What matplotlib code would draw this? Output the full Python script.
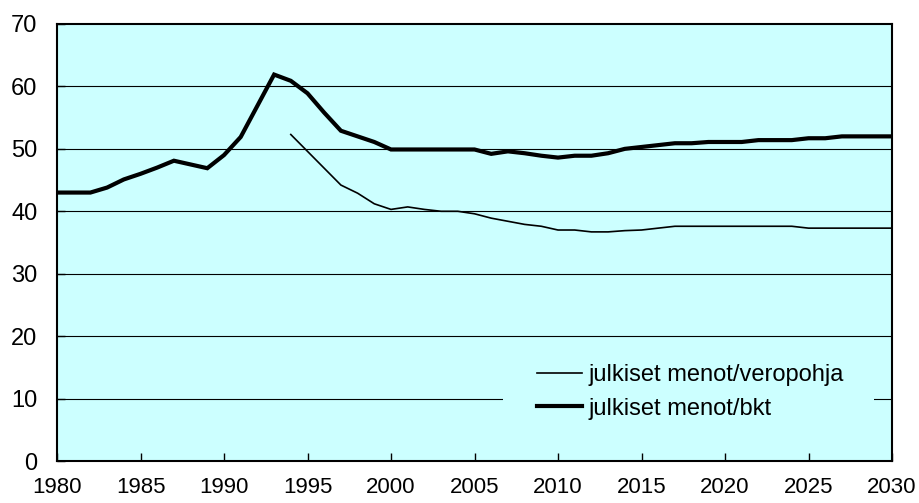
import matplotlib
matplotlib.use("Agg")
import matplotlib.pyplot as plt
from matplotlib.patches import Rectangle

plt.rcParams['font.family'] = ['Liberation Sans', 'DejaVu Sans']

years_bkt = list(range(1980, 2031))
menot_bkt = [43.0, 43.0, 43.0, 43.8, 45.1, 46.0, 47.0, 48.1, 47.5, 46.9,
             49.0, 51.9, 56.9, 61.9, 60.9, 58.9, 55.8, 52.9, 52.0, 51.1,
             49.9, 49.9, 49.9, 49.9, 49.9, 49.9, 49.2, 49.6, 49.3, 48.9,
             48.6, 48.9, 48.9, 49.3, 50.0, 50.3, 50.6, 50.9, 50.9, 51.1,
             51.1, 51.1, 51.4, 51.4, 51.4, 51.7, 51.7, 52.0, 52.0, 52.0,
             52.0]

years_vero = list(range(1994, 2031))
menot_vero = [52.3, 49.6, 46.9, 44.2, 42.9, 41.2, 40.3, 40.7, 40.3, 40.0,
              40.0, 39.6, 38.9, 38.4, 37.9, 37.6, 37.0, 37.0, 36.7, 36.7,
              36.9, 37.0, 37.3, 37.6, 37.6, 37.6, 37.6, 37.6, 37.6, 37.6,
              37.6, 37.3, 37.3, 37.3, 37.3, 37.3, 37.3]

x_ticks = list(range(1980, 2031, 5))
y_ticks = list(range(0, 71, 10))

labels = ["julkiset menot/veropohja", "julkiset menot/bkt"]

bg = '#CCFFFF'
fig = plt.figure(figsize=(9.19, 5.03), dpi=100)
ax = fig.add_axes([57/919, 1 - 461/503, (892-57)/919, (461-24)/503])
ax.set_facecolor(bg)

for yv in y_ticks[1:-1]:
    ax.axhline(yv, color='black', lw=0.8, zorder=1)

# legend background patch hiding the grid line behind the legend
ax.add_patch(Rectangle(((503-57)/835, 0.06), (874-503)/835, 0.2,
                       transform=ax.transAxes, facecolor=bg, edgecolor='none',
                       zorder=2))

ax.plot(years_vero, menot_vero, color='black', lw=1.2, label=labels[0], zorder=3,
        solid_joinstyle='miter')
ax.plot(years_bkt, menot_bkt, color='black', lw=3.0, label=labels[1], zorder=3,
        solid_joinstyle='miter')

ax.set_xlim(1980, 2030)
ax.set_ylim(0, 70)
ax.set_xticks(x_ticks)
ax.set_yticks(y_ticks)
ax.tick_params(axis='x', direction='in', length=6, width=1, labelsize=16, pad=11.8)
ax.tick_params(axis='y', direction='in', length=6, width=1, labelsize=17, pad=14)
for s in ax.spines.values():
    s.set_linewidth(1.5)
    s.set_color('black')

leg = ax.legend(loc='center', bbox_to_anchor=((690.5-57)/835, (461-391.7)/437),
                fontsize=17, frameon=False, borderpad=0.2,
                handlelength=1.9, handletextpad=0.28, labelspacing=0.5)
leg.set_zorder(5)

fig.savefig('out.png', dpi=100, facecolor='white')
